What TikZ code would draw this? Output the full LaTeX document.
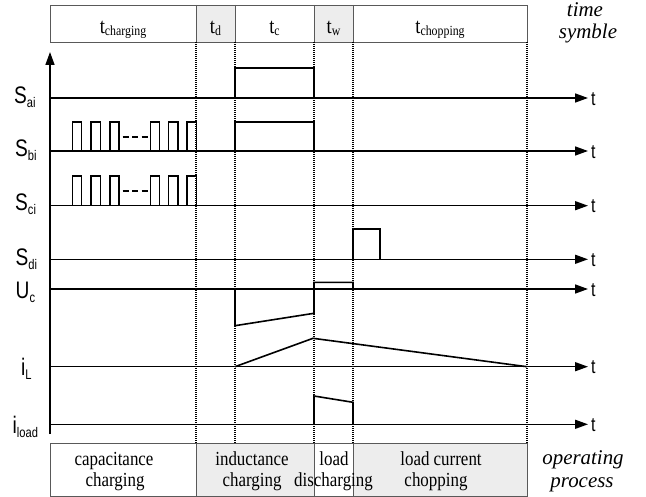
\documentclass[tikz,border=0pt]{standalone}
\usepackage{fontspec}
\setmainfont[FakeStretch=0.85]{Liberation Serif}
\newfontfamily\plainserif{Liberation Serif}
\newfontfamily\arialf[FakeStretch=0.8]{Liberation Sans}
\usetikzlibrary{arrows.meta}
\newcommand\tsubs[1]{\raisebox{-2bp}{\fontsize{14}{14}\selectfont #1}}
\newcommand\ssubs[1]{\raisebox{-4bp}{\fontsize{14}{14}\selectfont #1}}
\tikzset{
  axisline/.style={line width=1.5bp, -{Triangle[length=13bp,width=9bp]}},
  sigline/.style={line width=1.6bp, line join=miter},
  guide/.style={line width=1.1bp, dash pattern=on 1bp off 1bp, black},
  cellline/.style={draw=black!65, line width=0.8bp},
  cellfill/.style={fill=black!7},
  slabel/.style={anchor=base west, inner sep=0, font=\arialf\fontsize{24}{24}\selectfont},
  tlabel/.style={anchor=base west, inner sep=0, font=\arialf\fontsize{20}{20}\selectfont},
  hdr/.style={anchor=base, inner sep=0, font=\fontsize{22}{22}\selectfont},
  btxt/.style={anchor=base, inner sep=0, font=\fontsize{20}{20}\selectfont},
  itxt/.style={anchor=base, inner sep=0, font=\plainserif\itshape\fontsize{21}{21}\selectfont}
}
\begin{document}
\begin{tikzpicture}[x=1bp,y=-1bp]
\useasboundingbox (0,0) rectangle (646,497);
% header cells
\fill[cellfill] (196,5) rectangle (235,42);
\fill[cellfill] (314,5) rectangle (353,42);
\draw[cellline] (50,5) rectangle (527,42);
\foreach \x in {196,235,314,353} \draw[cellline] (\x,5) -- (\x,42);
\node[hdr] (hcharg) at (123,34) {t\tsubs{charging}};
\node[hdr] (hd) at (215.5,34) {t\tsubs{d}};
\node[hdr] (hc) at (274.5,34) {t\tsubs{c}};
\node[hdr] (hw) at (333.5,34) {t\tsubs{w}};
\node[hdr] (hchop) at (440,34) {t\tsubs{chopping}};
\node[itxt] (time) at (585,17) {time};
\node[itxt] (symble) at (588,38.3) {symble};
% bottom cells
\fill[cellfill] (196,443) rectangle (314,496);
\fill[cellfill] (353,443) rectangle (527,496);
\draw[cellline] (50,443) rectangle (527,496);
\foreach \x in {196,314,353} \draw[cellline] (\x,443) -- (\x,496);
\node[btxt] (capa) at (114,465) {capacitance};
\node[btxt] (capb) at (115,486) {charging};
\node[btxt] (inda) at (252,465) {inductance};
\node[btxt] (indb) at (252,486) {charging};
\node[btxt] (loada) at (334,465) {load};
\node[btxt] (loadb) at (333.5,486) {discharging};
\node[btxt] (chopa) at (441,465) {load current};
\node[btxt] (chopb) at (436,486) {chopping};
\node[itxt] (oper) at (583,464) {operating};
\node[itxt] (proc) at (582,487) {process};
% guides
\foreach \x in {196,235,314,353,527} \draw[guide] (\x,42) -- (\x,443);
% vertical axis
\coordinate (vbot) at (50,434);
\coordinate (vtop) at (50,52);
\draw[axisline] (vbot) -- (vtop);
% horizontal axes
\foreach \n/\y in {sa/98,sb/151,sc/205.7,sd/259.3,uc/289,il/366.7,ild/424.3}{
  \coordinate (\n0) at (50,\y);
  \coordinate (\n1) at (588,\y);
  \draw[axisline] (\n0) -- (\n1);
  \node[tlabel] (t\n) at (591,\y+7.2) {t};
}
% left labels
\node[slabel] (lsa) at (14,103.3) {S\ssubs{ai}};
\node[slabel] (lsb) at (15,156.5) {S\ssubs{bi}};
\node[slabel] (lsc) at (15,211) {S\ssubs{ci}};
\node[slabel] (lsd) at (15.5,265.5) {S\ssubs{di}};
\node[slabel] (luc) at (15.5,298) {U\ssubs{c}};
\node[slabel] (lil) at (21,375.5) {i\ssubs{L}};
\node[slabel] (lild) at (12.5,433) {i\ssubs{load}};
% S_ai
\draw[sigline] (235,98) |- (314,68) -- (314,98);
% S_bi and S_ci pulse trains
\foreach \base/\top/\dy in {151/122/136.7,205.7/176/190.7}{
  \foreach \s in {72.3,91,109.7,150.3,168.6,187}
    \draw[sigline] (\s,\base) |- (\s+9.3,\top) -- (\s+9.3,\base);
  \draw[line width=2.2bp, dash pattern=on 6.3bp off 3.2bp] (122.5,\dy) -- (148,\dy);
}
\draw[sigline] (235,151) |- (314,122) -- (314,151);
% S_di
\draw[sigline] (353,259.3) |- (380,229) -- (380,259.3);
% U_c
\draw[sigline] (235,289) -- (235,325.7) -- (314,313.3) -- (314,282.3) -- (353,282.3) -- (353,289);
% i_L
\draw[sigline] (235,366.7) -- (313,338.3) -- (527,366.7);
% i_load
\draw[sigline] (314,424.3) -- (314,396) -- (353,402.3) -- (353,424.3);
\end{tikzpicture}
\end{document}
